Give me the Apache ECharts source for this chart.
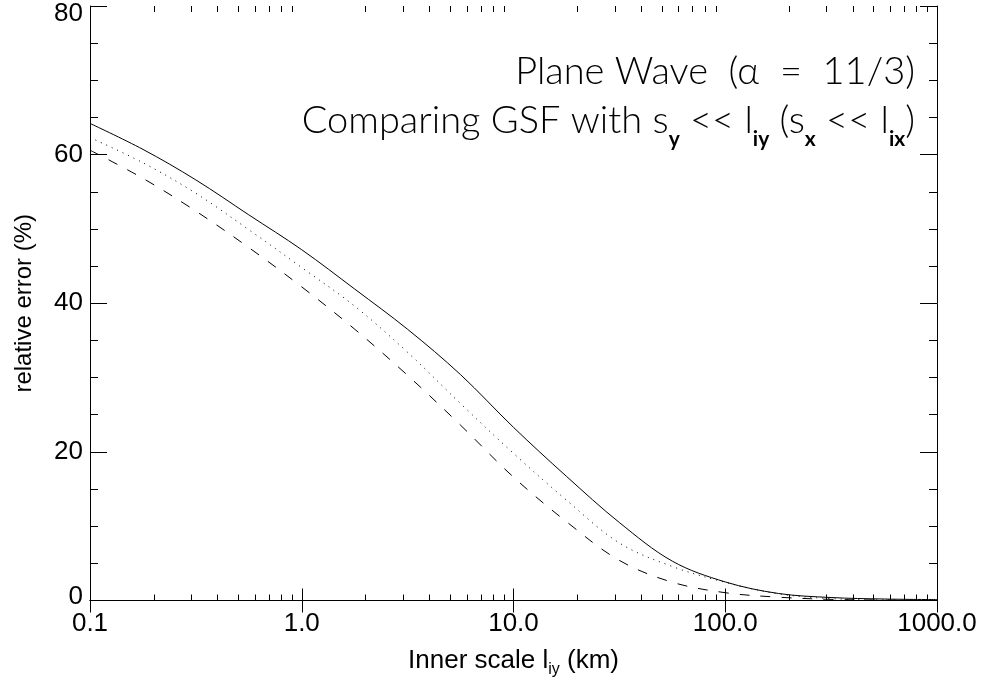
<!DOCTYPE html>
<html>
<head>
<meta charset="utf-8">
<script src="https://cdn.jsdelivr.net/npm/echarts@6/dist/echarts.min.js"></script>
<style>html,body{margin:0;padding:0;background:#fff}#c{width:986px;height:683px}</style>
</head>
<body>
<div id="c"></div>
<script>
// ---- data (quarter-decade sampling) ----
const innerScale = [0.1, 0.178, 0.316, 0.562, 1, 1.78, 3.16, 5.62, 10, 17.8, 31.6, 56.2, 100, 178, 316, 562, 1000];
const solidErr   = [64.2, 60.7, 56.6, 51.9, 47.2, 41.9, 36.5, 30.4, 23.3, 16.7, 10.5, 5.3, 2.5, 0.95, 0.4, 0.2, 0.12];
const dottedErr  = [62.3, 58.9, 54.8, 49.9, 44.8, 39.6, 33.4, 26.5, 19.8, 13.5, 7.75, 4.58, 2.45, 0.9, 0.25, 0.08, 0.03];
const dashedErr  = [60.6, 56.8, 52.4, 47.5, 42.2, 36.5, 30.3, 23.6, 16.6, 10.6, 5.4, 2.46, 1.05, 0.45, 0.15, 0.06, 0.02];
const xMinorTicks = [0.2,0.3,0.4,0.5,0.6,0.7,0.8,0.9, 2,3,4,5,6,7,8,9, 20,30,40,50,60,70,80,90, 200,300,400,500,600,700,800,900];
const xTickLabels = {0.1:'0.1', 1:'1.0', 10:'10.0', 100:'100.0', 1000:'1000.0'};
const yTicks = [0, 20, 40, 60, 80];
const titleLine1 = 'Plane Wave  (α  =  11/3)';
const xName = ['Inner scale l', 'iy', ' (km)'];
const yName = 'relative error (%)';

const pair = (xs, ys) => xs.map((x, i) => [x, ys[i]]);
const LAB = 'Liberation Sans';
const TFONT = 'Lato';

const chart = echarts.init(document.getElementById('c'));
const axisLine = {show: true, lineStyle: {color: '#000', width: 1}};
const lineSeries = (data, type) => ({
  type: 'line', data: data, showSymbol: false, smooth: 0.35,
  lineStyle: {color: '#000', width: 1, type: type}, silent: true, animation: false, z: 3
});
const subRich = {
  n: {fontFamily: TFONT, fontWeight: 300, fontSize: 38, color: '#000', lineHeight: 38},
  s: {fontFamily: TFONT, fontWeight: 700, fontSize: 21, color: '#000', lineHeight: 21, padding: [36, 0, 0, 0]}
};
chart.setOption({
  animation: false,
  backgroundColor: '#fff',
  title: [
    {text: titleLine1, right: 66, top: 48,
     textStyle: {fontFamily: TFONT, fontWeight: 300, fontSize: 38, color: '#000'}},
    {text: '{n|Comparing GSF with s}{s|y}{n| << l}{s|iy}{n| (s}{s|x}{n| << l}{s|ix}{n|)}', right: 66, top: 97,
     textStyle: {rich: subRich}}
  ],
  grid: {left: 90, right: 49, top: 6, bottom: 75, containLabel: false},
  xAxis: [
    {type: 'log', logBase: 10, min: 0.1, max: 1000, position: 'bottom',
     axisLine: axisLine, splitLine: {show: false},
     axisTick: {show: true, inside: true, length: 12, lineStyle: {color: '#000'}},
     axisLabel: {fontFamily: LAB, fontSize: 26, color: '#000', margin: 10,
                 formatter: v => xTickLabels[+v] !== undefined ? xTickLabels[+v] : ''},
     name: '{n|' + xName[0] + '}{s|' + xName[1] + '}{n|' + xName[2] + '}',
     nameLocation: 'middle', nameGap: 47,
     nameTextStyle: {rich: {
       n: {fontFamily: LAB, fontSize: 26, color: '#000', lineHeight: 26},
       s: {fontFamily: LAB, fontSize: 16, color: '#000', lineHeight: 16, padding: [19, 0, 0, 0]}
     }}},
    {type: 'log', logBase: 10, min: 0.1, max: 1000, position: 'top',
     axisLine: axisLine, splitLine: {show: false},
     axisTick: {show: true, inside: true, length: 12, lineStyle: {color: '#000'}},
     axisLabel: {show: false}}
  ],
  yAxis: [
    {type: 'value', min: 0, max: 80, interval: 20, position: 'left',
     axisLine: axisLine, splitLine: {show: false},
     axisTick: {show: true, inside: true, length: 17, lineStyle: {color: '#000'}},
     minorTick: {show: true, splitNumber: 4, length: 8, lineStyle: {color: '#000'}},
     axisLabel: {fontFamily: LAB, fontSize: 26, color: '#000', margin: 7,
       formatter: v => v === 0 ? '{lo|0}' : (v === 80 ? '{hi|80}' : String(v)),
       rich: {lo: {fontFamily: LAB, fontSize: 26, color: '#000', padding: [0, 0, 8, 0]},
              hi: {fontFamily: LAB, fontSize: 26, color: '#000', padding: [16, 0, 0, 0]}}},
     name: yName, nameLocation: 'middle', nameGap: 54,
     nameTextStyle: {fontFamily: LAB, fontSize: 24, color: '#000'}},
    {type: 'value', min: 0, max: 80, interval: 20, position: 'right',
     axisLine: axisLine, splitLine: {show: false},
     axisTick: {show: true, inside: true, length: 17, lineStyle: {color: '#000'}},
     minorTick: {show: true, splitNumber: 4, length: 8, lineStyle: {color: '#000'}},
     axisLabel: {show: false}}
  ],
  series: [
    lineSeries(pair(innerScale, solidErr), 'solid'),
    lineSeries(pair(innerScale, dottedErr), [1, 5]),
    lineSeries(pair(innerScale, dashedErr), [10, 11]),
    {type: 'custom', silent: true, animation: false, z: 4,
     data: xMinorTicks.map(v => [v, 0]),
     renderItem: (params, api) => {
       const v = api.value(0);
       const b = api.coord([v, 0]);
       const t = api.coord([v, 80]);
       const x = Math.round(b[0]) + 0.5;
       return {type: 'group', children: [
         {type: 'line', shape: {x1: x, y1: b[1], x2: x, y2: b[1] - 6}, style: {stroke: '#000', lineWidth: 1}},
         {type: 'line', shape: {x1: x, y1: t[1], x2: x, y2: t[1] + 6}, style: {stroke: '#000', lineWidth: 1}}
       ]};
     }}
  ]
});
</script>
</body>
</html>
